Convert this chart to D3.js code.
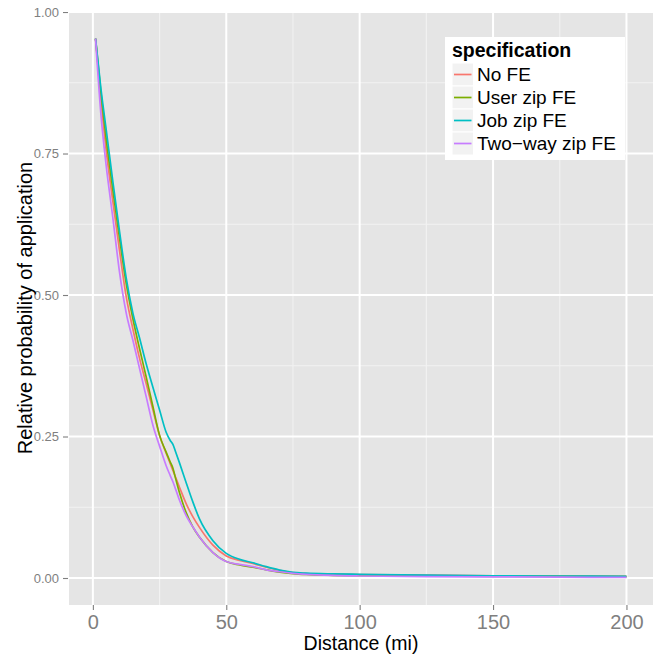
<!DOCTYPE html>
<html>
<head>
<meta charset="utf-8">
<script src="https://cdn.jsdelivr.net/npm/d3@7"></script>
<style>
  html, body { margin: 0; padding: 0; background: #fff; }
  svg { display: block; font-family: "Liberation Sans", Arial, Helvetica, sans-serif; }
</style>
</head>
<body>
<svg id="chart" width="656" height="658"></svg>
<script>
// ---- data ----
const distances = [1, 3, 5, 7.5, 10, 12.5, 15, 17.5, 20, 22.5, 25, 27.5, 29, 30, 31, 32.5, 35, 37.5, 40, 45, 50, 55, 60, 65, 70, 75, 80, 90, 100, 125, 150, 175, 200];
const seriesNames = ["No FE", "User zip FE", "Job zip FE", "Two\u2212way zip FE"];
const noFE      = [0.953, 0.845, 0.755, 0.665, 0.578, 0.497, 0.440, 0.388, 0.343, 0.297, 0.252, 0.220, 0.202, 0.190, 0.178, 0.160, 0.131, 0.108, 0.089, 0.058, 0.039, 0.031, 0.0256, 0.019, 0.0135, 0.0095, 0.008, 0.007, 0.0062, 0.005, 0.004, 0.0035, 0.003];
const userZipFE = [0.953, 0.858, 0.775, 0.685, 0.600, 0.520, 0.458, 0.405, 0.355, 0.303, 0.252, 0.222, 0.205, 0.194, 0.176, 0.150, 0.115, 0.090, 0.072, 0.045, 0.029, 0.023, 0.019, 0.0145, 0.0105, 0.0078, 0.0062, 0.0048, 0.0042, 0.0035, 0.003, 0.0027, 0.0025];
const jobZipFE  = [0.953, 0.865, 0.792, 0.700, 0.612, 0.530, 0.468, 0.424, 0.378, 0.337, 0.297, 0.257, 0.243, 0.236, 0.223, 0.203, 0.168, 0.134, 0.104, 0.066, 0.0436, 0.033, 0.027, 0.020, 0.014, 0.010, 0.0085, 0.0072, 0.0065, 0.005, 0.004, 0.0035, 0.003];
const twoWayFE  = [0.953, 0.820, 0.728, 0.636, 0.540, 0.468, 0.420, 0.370, 0.320, 0.270, 0.233, 0.198, 0.181, 0.170, 0.157, 0.137, 0.110, 0.090, 0.072, 0.045, 0.029, 0.024, 0.020, 0.0145, 0.011, 0.0083, 0.0065, 0.0045, 0.0035, 0.0025, 0.002, 0.0015, 0.001];
const seriesValues = [noFE, userZipFE, jobZipFE, twoWayFE];
const colors = ["#F8766D", "#7CAE00", "#00BFC4", "#C77CFF"];
const xTicks = [0, 50, 100, 150, 200];
const xMinor = [25, 75, 125, 175];
const yTicks = [0, 0.25, 0.5, 0.75, 1.0];
const yMinor = [0.125, 0.375, 0.625, 0.875];
const xTitle = "Distance (mi)";
const yTitle = "Relative probability of application";
const legendTitle = "specification";

// ---- layout ----
const svg = d3.select("#chart");
const P = { left: 69, right: 653, top: 11, bottom: 605 };

const x = d3.scaleLinear().domain([-8.95, 209.95]).range([P.left, P.right]);
const y = d3.scaleLinear().domain([-0.0477, 1.0018]).range([P.bottom, P.top]);

// panel background
svg.append("rect").attr("x", P.left).attr("y", P.top)
  .attr("width", P.right - P.left).attr("height", P.bottom - P.top)
  .attr("fill", "#E5E5E5");

const grid = svg.append("g");
grid.selectAll(".xm").data(xMinor).join("line")
  .attr("x1", d => x(d)).attr("x2", d => x(d)).attr("y1", P.top).attr("y2", P.bottom)
  .attr("stroke", "#F2F2F2").attr("stroke-width", 1.1);
grid.selectAll(".ym").data(yMinor).join("line")
  .attr("y1", d => y(d)).attr("y2", d => y(d)).attr("x1", P.left).attr("x2", P.right)
  .attr("stroke", "#F2F2F2").attr("stroke-width", 1.1);
grid.selectAll(".xM").data(xTicks).join("line")
  .attr("x1", d => x(d)).attr("x2", d => x(d)).attr("y1", P.top).attr("y2", P.bottom)
  .attr("stroke", "#FFFFFF").attr("stroke-width", 2);
grid.selectAll(".yM").data(yTicks).join("line")
  .attr("y1", d => y(d)).attr("y2", d => y(d)).attr("x1", P.left).attr("x2", P.right)
  .attr("stroke", "#FFFFFF").attr("stroke-width", 2);

// lines
const line = d3.line().x(d => x(d[0])).y(d => y(d[1])).curve(d3.curveMonotoneX);
seriesValues.forEach((vals, i) => {
  svg.append("path")
    .datum(distances.map((dd, j) => [dd, vals[j]]))
    .attr("d", line)
    .attr("fill", "none")
    .attr("stroke", colors[i])
    .attr("stroke-width", 1.7)
    .attr("stroke-linejoin", "round");
});

// axes
const xAxis = d3.axisBottom(x).tickValues(xTicks).tickSize(5).tickPadding(5).tickFormat(d3.format("d"));
const gx = svg.append("g").attr("transform", `translate(0,${P.bottom})`).call(xAxis);
gx.select(".domain").remove();
gx.selectAll(".tick line").attr("stroke", "#7F7F7F").attr("stroke-width", 1.1);
gx.selectAll(".tick text").attr("fill", "#7F7F7F").attr("font-size", 20)
  .attr("font-family", "Liberation Sans, Arial, sans-serif");

const yAxis = d3.axisLeft(y).tickValues(yTicks).tickSize(5).tickPadding(4).tickFormat(d3.format(".2f"));
const gy = svg.append("g").attr("transform", `translate(${P.left - 1},0)`).call(yAxis);
gy.select(".domain").remove();
gy.selectAll(".tick line").attr("stroke", "#7F7F7F").attr("stroke-width", 1.1);
gy.selectAll(".tick text").attr("fill", "#7F7F7F").attr("font-size", 13)
  .attr("font-family", "Liberation Sans, Arial, sans-serif");

// axis titles
svg.append("text").attr("x", (P.left + P.right) / 2).attr("y", 650)
  .attr("text-anchor", "middle").attr("font-size", 19.5).attr("fill", "#000").text(xTitle);
svg.append("text")
  .attr("transform", `translate(31.5,${(P.top + P.bottom) / 2}) rotate(-90)`)
  .attr("text-anchor", "middle").attr("font-size", 20).attr("fill", "#000").text(yTitle);

// legend
const L = { x: 445, y: 37, w: 180, h: 123 };
const lg = svg.append("g");
lg.append("rect").attr("x", L.x).attr("y", L.y).attr("width", L.w).attr("height", L.h).attr("fill", "#fff");
lg.append("text").attr("x", 452).attr("y", 57).attr("font-size", 19.5).attr("font-weight", "bold")
  .attr("fill", "#000").text(legendTitle);
const keyH = 23;
seriesNames.forEach((name, i) => {
  const ky = 63 + i * keyH;
  lg.append("rect").attr("x", 452).attr("y", ky).attr("width", 21.5).attr("height", keyH)
    .attr("fill", "#F2F2F2").attr("stroke", "#fff").attr("stroke-width", 1);
  lg.append("line").attr("x1", 454).attr("x2", 471.5).attr("y1", ky + keyH / 2).attr("y2", ky + keyH / 2)
    .attr("stroke", colors[i]).attr("stroke-width", 1.7);
  lg.append("text").attr("x", 477).attr("y", ky + keyH / 2).attr("dy", "0.36em")
    .attr("font-size", 19).attr("fill", "#000").text(name);
});
</script>
</body>
</html>
